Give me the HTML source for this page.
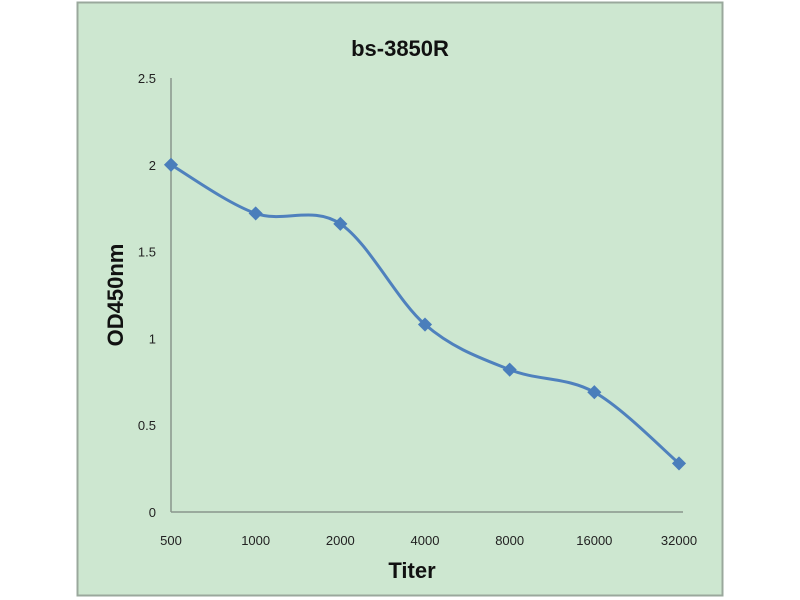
<!DOCTYPE html>
<html><head><meta charset="utf-8"><style>
body{margin:0;background:#fff;width:800px;height:600px;overflow:hidden}
svg{display:block;font-family:"Liberation Sans",sans-serif}
</style></head><body>
<svg id="c" width="800" height="600">
<rect x="77.5" y="2.5" width="645" height="593" fill="#cde7d0" stroke="#9aa89c" stroke-width="2"/>
<text x="400" y="56" text-anchor="middle" font-size="22" font-weight="bold" fill="#111">bs-3850R</text>
<text x="412" y="578" text-anchor="middle" font-size="22" font-weight="bold" fill="#111">Titer</text>
<text transform="translate(123,295) rotate(-90)" text-anchor="middle" font-size="22" font-weight="bold" fill="#111">OD450nm</text>
<g id="g"></g>
</svg>
<script>
const categories=["500","1000","2000","4000","8000","16000","32000"];
const values=[2.0,1.72,1.66,1.08,0.82,0.69,0.28];
const yTicks=[0,0.5,1,1.5,2,2.5];
const NS="http://www.w3.org/2000/svg";
const g=document.getElementById('g');
const x0=171,x1=679,y0=512,y1=78;
function xs(i){return x0+(x1-x0)*i/(categories.length-1);}
function ys(v){return y0-(y0-y1)*v/2.5;}
function mk(t,a){const e=document.createElementNS(NS,t);for(const k in a)e.setAttribute(k,a[k]);g.appendChild(e);return e;}
let e=mk('line',{x1:x0,y1:y0,x2:x0,y2:y1,stroke:'#8a958c','stroke-width':1.5});


e=mk('line',{x1:x0,y1:y0,x2:683,y2:y0,stroke:'#8a958c','stroke-width':1.5});


yTicks.forEach(v=>{const t=mk('text',{x:156,y:ys(v)+5,'text-anchor':'end','font-size':13,fill:'#222'});t.textContent=String(v);

});
categories.forEach((c,i)=>{const t=mk('text',{x:xs(i),y:545,'text-anchor':'middle','font-size':13,fill:'#222'});t.textContent=c;

});
const P=values.map((v,i)=>[xs(i),ys(v)]);
let d='M'+P[0][0]+','+P[0][1];
for(let i=0;i<P.length-1;i++){const p0=P[i-1]||P[i],p1=P[i],p2=P[i+1],p3=P[i+2]||P[i+1];const k=1/6;
d+=` C${p1[0]+(p2[0]-p0[0])*k},${p1[1]+(p2[1]-p0[1])*k} ${p2[0]-(p3[0]-p1[0])*k},${p2[1]-(p3[1]-p1[1])*k} ${p2[0]},${p2[1]}`;}
e=mk('path',{d:d,fill:'none',stroke:'#4f81bd','stroke-width':3});


P.forEach(p=>{const m=mk('rect',{x:p[0]-5,y:p[1]-5,width:10,height:10,fill:'#4a7ebb',transform:`rotate(45 ${p[0]} ${p[1]})`});

});
</script>
</body></html>
